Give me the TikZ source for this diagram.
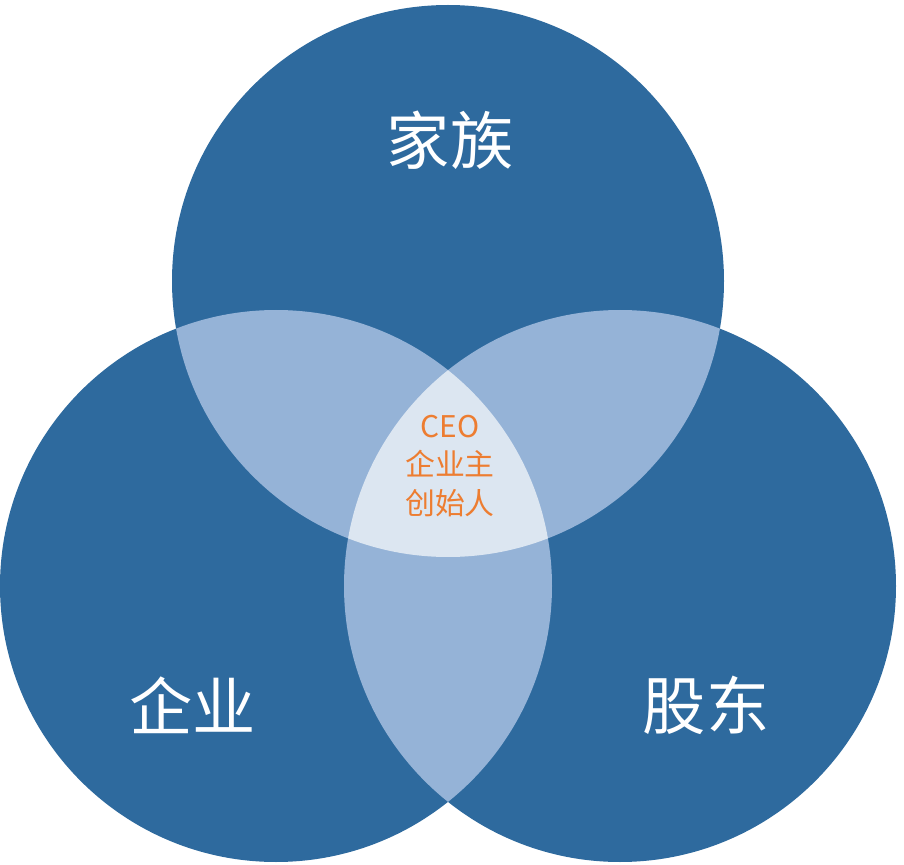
\documentclass[tikz,border=0pt]{standalone}
\usepackage{fontspec}
\newfontfamily\cjk{Noto Sans CJK SC}
\definecolor{dk}{HTML}{2E6A9E}
\definecolor{md}{HTML}{95B3D7}
\definecolor{lt}{HTML}{DCE6F1}
\definecolor{og}{HTML}{ED7D31}
\begin{document}
\begin{tikzpicture}[x=0.02cm,y=-0.02cm,
  big/.style={text=white,font=\cjk\fontsize{36}{40}\selectfont},
  small/.style={text=og,font=\cjk\fontsize{17}{22}\selectfont,align=center}]
\useasboundingbox (0,0) rectangle (904,865);
\coordinate (T) at (448,281);
\coordinate (L) at (276,586);
\coordinate (R) at (620,586);
\foreach \c in {T,L,R} \fill[dk] (\c) circle (276);
\begin{scope}\clip (T) circle (276); \fill[md] (L) circle (276); \fill[md] (R) circle (276);\end{scope}
\begin{scope}\clip (L) circle (276); \fill[md] (R) circle (276);\end{scope}
\begin{scope}\clip (T) circle (276); \clip (L) circle (276); \fill[lt] (R) circle (276);\end{scope}
\node[big] (fam) at (450,140) {家族};
\node[big] (ent) at (193,705) {企业};
\node[big] (sh) at (706,705) {股东};
\node[small] (ctr) at (450,466) {CEO\\企业主\\创始人};
\end{tikzpicture}
\end{document}
